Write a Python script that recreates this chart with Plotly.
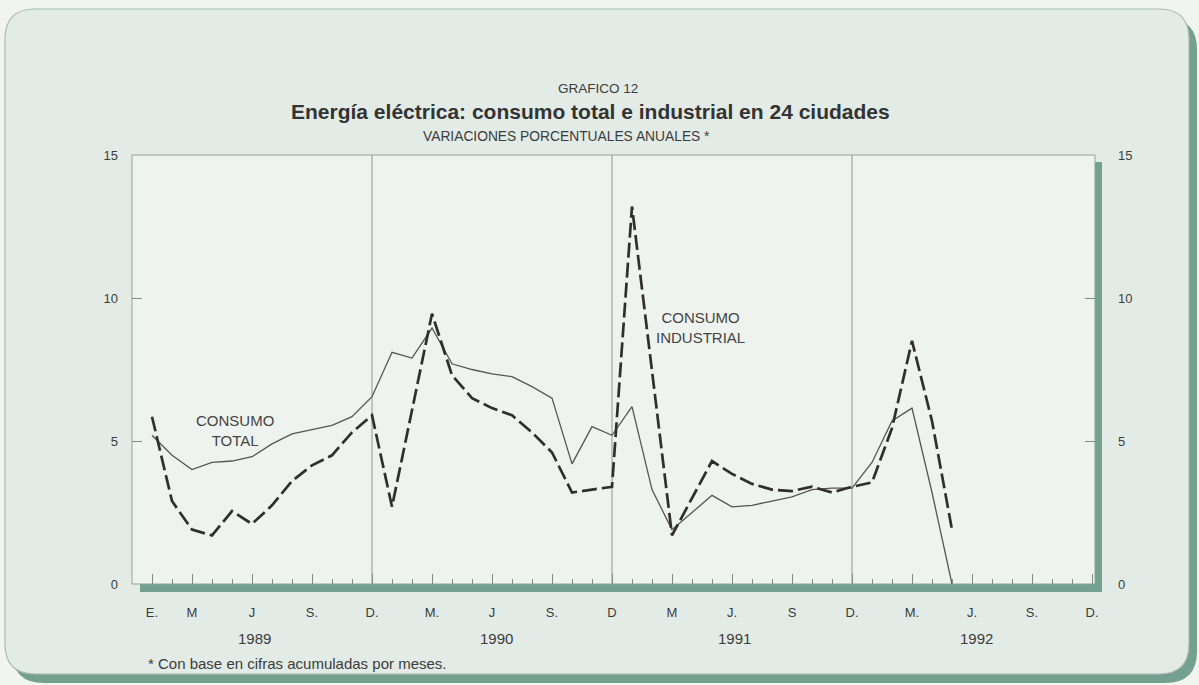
import plotly.graph_objects as go

# ---------------- data ----------------
months = list(range(41))  # 0 = Jan 1989 ... 40 = May 1992
consumo_total = [5.2, 4.5, 4.0, 4.25, 4.3, 4.45, 4.9, 5.25, 5.4, 5.55, 5.85, 6.55,
                 8.1, 7.9, 8.95, 7.7, 7.5, 7.35, 7.25, 6.9, 6.5, 4.2, 5.5, 5.2,
                 6.2, 3.3, 1.9, 2.5, 3.1, 2.7, 2.75, 2.9, 3.05, 3.3, 3.35, 3.35,
                 4.25, 5.7, 6.15, 3.2, 0.0]
consumo_industrial = [5.85, 2.9, 1.9, 1.7, 2.55, 2.1, 2.75, 3.6, 4.15, 4.5, 5.3, 5.9,
                      2.7, 6.1, 9.45, 7.3, 6.5, 6.15, 5.9, 5.3, 4.6, 3.2, 3.3, 3.4,
                      13.2, 7.4, 1.7, 3.0, 4.3, 3.85, 3.5, 3.3, 3.25, 3.4, 3.2, 3.4,
                      3.55, 5.45, 8.5, 5.7, 1.9]
tick_months = [0, 2, 5, 8, 11, 14, 17, 20, 23, 26, 29, 32, 35, 38, 41, 44, 47]
tick_labels = ["E.", "M", "J", "S.", "D.", "M.", "J", "S.", "D", "M", "J.", "S", "D.",
               "M.", "J.", "S.", "D."]
year_labels = ["1989", "1990", "1991", "1992"]
year_centers = [5.1, 17.2, 29.1, 41.2]
december_lines = [11, 23, 35]
y_ticks = [0, 5, 10, 15]

# ---------------- layout geometry ----------------
W, H = 1199, 685
L, R, T, B = 132, 104, 155, 101
PW, PH = W - L - R, H - T - B


def px(x):
    return (x - L) / PW


def py(y):
    return (H - B - y) / PH


def rounded_path(x0, y0, x1, y1, r):
    pts = [
        f"M{px(x0 + r)},{py(y0)}",
        f"L{px(x1 - r)},{py(y0)}",
        f"Q{px(x1)},{py(y0)} {px(x1)},{py(y0 + r)}",
        f"L{px(x1)},{py(y1 - r)}",
        f"Q{px(x1)},{py(y1)} {px(x1 - r)},{py(y1)}",
        f"L{px(x0 + r)},{py(y1)}",
        f"Q{px(x0)},{py(y1)} {px(x0)},{py(y1 - r)}",
        f"L{px(x0)},{py(y0 + r)}",
        f"Q{px(x0)},{py(y0)} {px(x0 + r)},{py(y0)}",
        "Z",
    ]
    return " ".join(pts)


TEAL = "#73a091"
FRAME_BG = "#e3ebe6"
PLOT_BG = "#eef3ef"
TXT = "#3c3c3c"
FONT = "Liberation Sans, Arial, sans-serif"
TICKC = "#7d8e86"

fig = go.Figure()

fig.add_trace(go.Scatter(
    x=months, y=consumo_total, mode="lines", name="Consumo total",
    line=dict(color="#555555", width=1.3), showlegend=False, hoverinfo="x+y"))
fig.add_trace(go.Scatter(
    x=months, y=consumo_industrial, mode="lines", name="Consumo industrial",
    line=dict(color="#2f2f2f", width=2.7, dash="15px,5px"), showlegend=False,
    hoverinfo="x+y"))
fig.add_trace(go.Scatter(x=[None], y=[None], yaxis="y2", showlegend=False,
                         hoverinfo="skip"))

shapes = [
    dict(type="path", xref="paper", yref="paper", layer="below",
         path=rounded_path(12, 18, 1197, 683, 32), fillcolor=TEAL,
         line=dict(width=0)),
    dict(type="path", xref="paper", yref="paper", layer="below",
         path=rounded_path(5, 9, 1189, 674, 30), fillcolor=FRAME_BG,
         line=dict(color="#a9bcb3", width=1.2)),
    dict(type="rect", xref="paper", yref="paper", layer="below",
         x0=px(140), x1=px(1102), y0=py(592), y1=py(162), fillcolor=TEAL,
         line=dict(width=0)),
    dict(type="rect", xref="paper", yref="paper", layer="below",
         x0=0, x1=1, y0=0, y1=1, fillcolor=PLOT_BG,
         line=dict(color="#8fa39a", width=1)),
]
for d in december_lines:
    shapes.append(dict(type="line", xref="x", yref="paper", layer="below",
                       x0=d, x1=d, y0=0, y1=1,
                       line=dict(color="#8a9a93", width=1)))


def ann(text, x, y, size, xref="paper", yref="paper", xanchor="center", color=TXT):
    return dict(text=text, x=x, y=y, xref=xref, yref=yref, xanchor=xanchor,
                yanchor="middle", showarrow=False,
                font=dict(size=size, color=color, family=FONT))


annotations = [
    ann("GRAFICO 12", px(598), py(88), 13.5),
    ann("<b>Energía eléctrica: consumo total e industrial en 24 ciudades</b>",
        px(590), py(112), 21, color="#333333"),
    ann("VARIACIONES PORCENTUALES ANUALES *", px(566), py(136), 13.8),
    ann("CONSUMO<br>TOTAL", 4.15, 5.35, 15, xref="x", yref="y", color="#444444"),
    ann("CONSUMO<br>INDUSTRIAL", 27.4, 8.97, 15, xref="x", yref="y", color="#444444"),
    ann("* Con base en cifras acumuladas por meses.", px(146), py(663), 15,
        xanchor="left"),
]
for lab, c in zip(year_labels, year_centers):
    annotations.append(ann(lab, c, py(638), 15, xref="x"))

fig.update_layout(
    width=W, height=H,
    margin=dict(l=L, r=R, t=T, b=B, pad=0),
    paper_bgcolor="#f1f4f1",
    plot_bgcolor="rgba(0,0,0,0)",
    shapes=shapes,
    annotations=annotations,
    font=dict(family=FONT, color=TXT),
    xaxis=dict(range=[-1, 47.15], tickmode="array", tickvals=tick_months,
               ticktext=tick_labels, ticks="inside", ticklen=10,
               tickcolor=TICKC, tickwidth=1, showgrid=False, zeroline=False,
               showline=False, ticklabelstandoff=19,
               tickfont=dict(size=13, color=TXT, family=FONT),
               minor=dict(tickmode="linear", tick0=0, dtick=1, ticks="inside",
                          ticklen=5, tickcolor=TICKC, showgrid=False)),
    yaxis=dict(range=[0, 15], tickmode="array", tickvals=y_ticks,
               ticks="inside", ticklen=10, tickcolor=TICKC,
               showgrid=False, zeroline=False, showline=False,
               ticklabelstandoff=13,
               tickfont=dict(size=13, color=TXT, family=FONT)),
    yaxis2=dict(range=[0, 15], tickmode="array", tickvals=y_ticks,
                overlaying="y", side="right", ticks="inside", ticklen=10,
                tickcolor=TICKC, showgrid=False, zeroline=False,
                showline=False, ticklabelstandoff=22,
                tickfont=dict(size=13, color=TXT, family=FONT)),
)

fig.write_html("out.html", config={"displayModeBar": False},
               post_script="document.body.style.margin='0';document.body.style.background='#f1f4f1';")
